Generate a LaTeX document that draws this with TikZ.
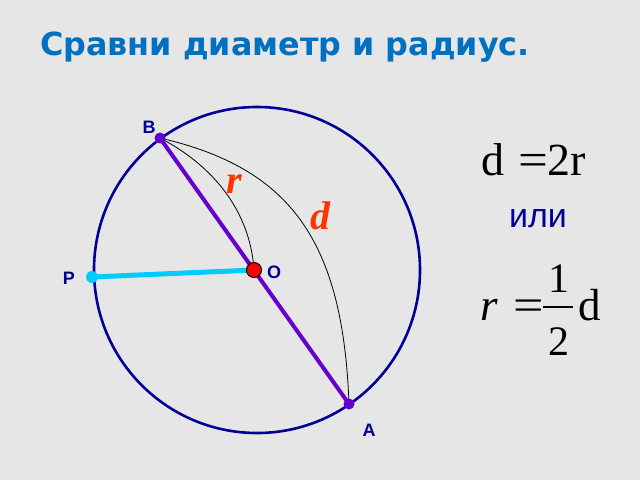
\documentclass[tikz,border=0pt]{standalone}
\usepackage{fontspec}
\setmainfont{Liberation Serif}
\newfontfamily\titlefont{DejaVu Sans}
\newfontfamily\lblfont{Liberation Sans}
\definecolor{bg}{HTML}{E6E6E6}
\definecolor{titleblue}{HTML}{0070C0}
\definecolor{navy}{HTML}{000099}
\definecolor{purp}{HTML}{6600CC}
\definecolor{cyanl}{HTML}{00CCFF}
\definecolor{redo}{HTML}{FF3300}
\begin{document}
\begin{tikzpicture}[x=1pt,y=-1pt,
  ptlbl/.style={font=\lblfont\bfseries\fontsize{18}{18}\selectfont, text=navy, inner sep=0pt},
  curv/.style={black, line width=0.8pt},
  varlbl/.style={font=\bfseries\itshape\fontsize{40}{40}\selectfont, text=redo, inner sep=0pt},
  frm/.style={inner sep=0pt, font=\fontsize{45}{45}\selectfont},
  frn/.style={inner sep=0pt, font=\fontsize{42}{42}\selectfont},
  topf/.style={inner sep=0pt, font=\fontsize{46}{46}\selectfont}]
\fill[bg] (0,0) rectangle (640,480);
\useasboundingbox (0,0) rectangle (640,480);
\node[anchor=west, inner sep=0pt, text=titleblue, font=\titlefont\bfseries\fontsize{31.8}{31.8}\selectfont] (title) at (40,47) {Сравни диаметр и радиус.};
\coordinate (C) at (257,270);
\node[draw=navy, line width=2.6pt, circle, minimum size=326pt, inner sep=0pt] (circ) at (C) {};
\coordinate (B) at (160,138);
\coordinate (A) at (349,404);
\coordinate (P) at (92,277);
\coordinate (O) at (254,270);
\draw[curv] (B) .. controls (212,165) and (250,210) .. (O);
\draw[curv] (B) .. controls (290,168) and (343,240) .. (A);
\draw[purp, line width=4pt] (B) -- (A);
\draw[cyanl, line width=5pt] (P) -- (O);
\fill[purp] (B) circle (5.5);
\fill[purp] (A) circle (5.5);
\fill[cyanl] (P) circle (6);
\filldraw[fill=red, draw=black, line width=1pt] (O) circle (7.5);
\node[ptlbl] (lB) at (149,127) {B};
\node[ptlbl] (lO) at (274,272) {O};
\node[ptlbl] (lP) at (69,278) {P};
\node[ptlbl] (lA) at (369,430) {A};
\node[varlbl] (lr) at (234,184) {r};
\node[varlbl] (ld) at (320,216) {d};
\node[topf, anchor=base west] (f1d) at (481,175) {d};
\node[topf, anchor=base, xscale=1.15] (f1eq) at (533,175) {=};
\node[topf, anchor=base west] (f1r) at (547,175) {2r};
\node[inner sep=0pt, anchor=base, text=navy, font=\lblfont\fontsize{34}{34}\selectfont] (ili) at (538,227) {или};
\node[frm, anchor=base west] (fr) at (480,320) {\itshape r};
\node[frm, anchor=base, xscale=1.2] (feq) at (529,320) {=};
\draw[black, line width=1.8pt] (543,307) -- (573,307);
\node[frn, anchor=base] (f1n) at (559,292) {1};
\node[frn, anchor=base] (f2n) at (559,355) {2};
\node[frm, anchor=base west] (fd) at (578,320) {d};
\end{tikzpicture}
\end{document}
